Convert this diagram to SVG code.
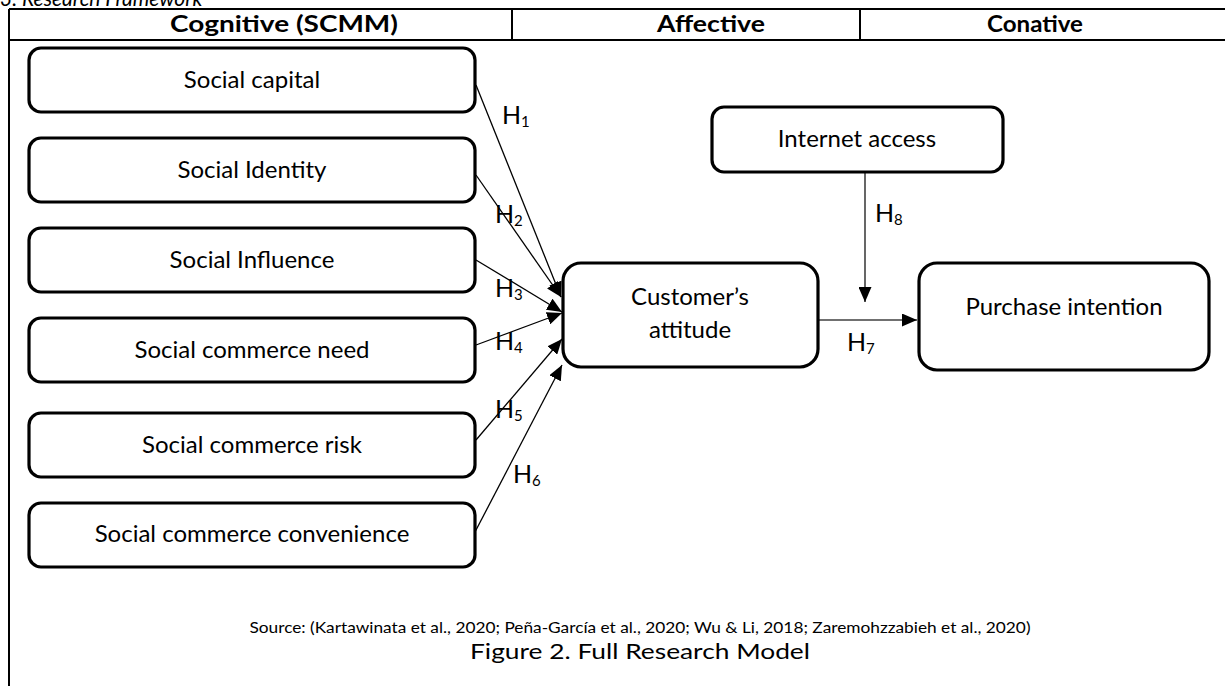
<svg xmlns="http://www.w3.org/2000/svg" width="1225" height="686" viewBox="0 0 1225 686">
<style>
.frame{stroke:#000;stroke-width:2;fill:none}
.box{fill:#fff;stroke:#000;stroke-width:3.2}
.lbl{font-family:Lato,"Liberation Sans",sans-serif;font-size:24px;fill:#000;text-anchor:middle}
.hd{font-family:Lato,"Liberation Sans",sans-serif;font-size:22px;font-weight:700;fill:#000;text-anchor:middle}
.h{font-family:Lato,"Liberation Sans",sans-serif;font-size:25px;fill:#000}
.sub{font-size:15px}
.con{stroke:#000;stroke-width:1.3;fill:none}
.con2{stroke:#404040;stroke-width:1.6;fill:none}
.cap{font-family:Lato,"Liberation Sans",sans-serif;fill:#000;text-anchor:middle}
</style>
<defs>
<marker id="ah" viewBox="0 0 15 13" markerWidth="15" markerHeight="13" refX="15" refY="6.5" orient="auto" markerUnits="userSpaceOnUse">
<path d="M0,0 L15,6.5 L0,13 z" fill="#000"/>
</marker>
</defs>
<rect width="1225" height="686" fill="#fff"/>
<text x="0" y="6" font-family="Lato,'Liberation Sans',sans-serif" font-size="21" font-style="italic" fill="#000">3. Research Framework</text>
<g id="header">
<path class="frame" d="M9,9 H1225 M9,40 H1225 M9,9 V686 M512,9 V40 M860,9 V40"/>
<text class="hd" x="284" y="32" textLength="228" lengthAdjust="spacingAndGlyphs">Cognitive (SCMM)</text>
<text class="hd" x="711" y="32" textLength="108" lengthAdjust="spacingAndGlyphs">Affective</text>
<text class="hd" x="1035" y="32" textLength="96" lengthAdjust="spacingAndGlyphs">Conative</text>
</g>
<g id="connectors">
<line class="con" x1="476" y1="85" x2="561" y2="297" marker-end="url(#ah)"/>
<line class="con" x1="476" y1="175" x2="561" y2="297" marker-end="url(#ah)"/>
<line class="con" x1="476" y1="260" x2="562" y2="312" marker-end="url(#ah)"/>
<line class="con" x1="476" y1="345" x2="562" y2="313" marker-end="url(#ah)"/>
<line class="con" x1="476" y1="440" x2="562" y2="339" marker-end="url(#ah)"/>
<line class="con" x1="475" y1="532" x2="562" y2="365" marker-end="url(#ah)"/>
<line class="con2" x1="818" y1="320" x2="917" y2="320" marker-end="url(#ah)"/>
<line class="con2" x1="865" y1="172" x2="865" y2="302" marker-end="url(#ah)"/>
</g>
<g id="labels">
<text class="h" x="502" y="124">H<tspan class="sub" dy="3">1</tspan></text>
<text class="h" x="495" y="223">H<tspan class="sub" dy="3">2</tspan></text>
<text class="h" x="495" y="297">H<tspan class="sub" dy="3">3</tspan></text>
<text class="h" x="495" y="350">H<tspan class="sub" dy="3">4</tspan></text>
<text class="h" x="495" y="418">H<tspan class="sub" dy="3">5</tspan></text>
<text class="h" x="513" y="483">H<tspan class="sub" dy="3">6</tspan></text>
<text class="h" x="847" y="351">H<tspan class="sub" dy="3">7</tspan></text>
<text class="h" x="875" y="222">H<tspan class="sub" dy="3">8</tspan></text>
</g>
<g id="social-capital">
<rect class="box" x="29" y="48" width="446" height="64" rx="12"/>
<text class="lbl" x="252" y="88">Social capital</text>
</g>
<g id="social-identity">
<rect class="box" x="29" y="138" width="446" height="64" rx="12"/>
<text class="lbl" x="252" y="178">Social Identity</text>
</g>
<g id="social-influence">
<rect class="box" x="29" y="228" width="446" height="64" rx="12"/>
<text class="lbl" x="252" y="268">Social Influence</text>
</g>
<g id="social-commerce-need">
<rect class="box" x="29" y="318" width="446" height="64" rx="12"/>
<text class="lbl" x="252" y="358">Social commerce need</text>
</g>
<g id="social-commerce-risk">
<rect class="box" x="29" y="413" width="446" height="64" rx="12"/>
<text class="lbl" x="252" y="453">Social commerce risk</text>
</g>
<g id="social-commerce-convenience">
<rect class="box" x="29" y="503" width="446" height="64" rx="12"/>
<text class="lbl" x="252" y="542">Social commerce convenience</text>
</g>
<g id="internet-access">
<rect class="box" x="712" y="107" width="291" height="65" rx="12"/>
<text class="lbl" x="857" y="147">Internet access</text>
</g>
<g id="customers-attitude">
<rect class="box" x="563" y="263" width="255" height="104" rx="18"/>
<text class="lbl" x="690" y="305">Customer’s</text>
<text class="lbl" x="690" y="338">attitude</text>
</g>
<g id="purchase-intention">
<rect class="box" x="919" y="263" width="290" height="107" rx="18"/>
<text class="lbl" x="1064" y="315">Purchase intention</text>
</g>
<text class="cap" x="640" y="633" font-size="15" textLength="781" lengthAdjust="spacingAndGlyphs">Source: (Kartawinata et al., 2020; Peña-García et al., 2020; Wu &amp; Li, 2018; Zaremohzzabieh et al., 2020)</text>
<text class="cap" x="640" y="659" font-size="22" textLength="340" lengthAdjust="spacingAndGlyphs">Figure 2. Full Research Model</text>
</svg>
